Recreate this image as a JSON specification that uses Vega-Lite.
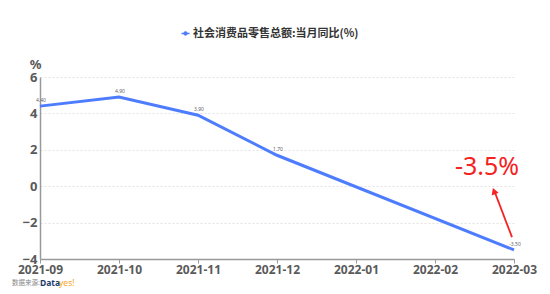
{
  "$schema": "https://vega.github.io/schema/vega-lite/v6.json",
  "width": 474,
  "height": 182,
  "autosize": {"type": "none"},
  "padding": {"left": 40, "right": 36, "top": 77, "bottom": 35},
  "background": "white",
  "config": {
    "view": {"stroke": null},
    "font": "Noto Sans",
    "axis": {"labelOverlap": false, "labelFlush": false},
    "axisY": {"tickCount": 6}
  },
  "datasets": {
    "series": [
      {"month": "2021-09", "value": 4.4, "label": "4.40", "series": "社会消费品零售总额:当月同比(%)"},
      {"month": "2021-10", "value": 4.9, "label": "4.90", "series": "社会消费品零售总额:当月同比(%)"},
      {"month": "2021-11", "value": 3.9, "label": "3.90", "series": "社会消费品零售总额:当月同比(%)"},
      {"month": "2021-12", "value": 1.7, "label": "1.70", "series": "社会消费品零售总额:当月同比(%)"},
      {"month": "2022-03", "value": -3.5, "label": "-3.50", "series": "社会消费品零售总额:当月同比(%)"}
    ],
    "note": [{"month": "2022-03", "y": 1.05, "text": "-3.5%"}],
    "arrow": [{"month": "2022-03", "y1": -2.8, "y2": -0.35, "yh": -0.27}],
    "footer": [{"month": "2021-09", "y": -5.3, "src": "数据来源:", "a": "Data", "b": "yes!"}]
  },
  "layer": [
    {
      "data": {"name": "series"},
      "mark": {"type": "line", "strokeWidth": 3},
      "encoding": {
        "x": {
          "field": "month", "type": "ordinal",
          "scale": {"type": "point", "padding": 0, "domain": ["2021-09", "2021-10", "2021-11", "2021-12", "2022-01", "2022-02", "2022-03"]},
          "axis": {
            "title": null, "labelAngle": 0, "labelFontSize": 12, "labelFontWeight": "bold", "labelColor": "#5a5a5a",
            "labelPadding": 1, "tickSize": 4, "tickColor": "#999", "domainColor": "#999", "domainWidth": 1.5, "grid": false
          }
        },
        "y": {
          "field": "value", "type": "quantitative",
          "scale": {"domain": [-4, 6], "nice": false, "zero": false},
          "axis": {
            "values": [-4, -2, 0, 2, 4, 6], "title": "%", "titleAngle": 0, "titleX": -5, "titleY": -13,
            "titleAlign": "center", "titleBaseline": "middle", "titleFontSize": 13, "titleFontWeight": "bold", "titleColor": "#5a5a5a",
            "labelFontSize": 13, "labelFontWeight": "bold", "labelColor": "#5a5a5a", "labelPadding": 3,
            "ticks": false, "domainColor": "#999", "domainWidth": 1.5,
            "grid": true, "gridColor": "#e2e2e2", "gridDash": [2, 2], "gridWidth": 1
          }
        },
        "color": {
          "field": "series", "type": "nominal",
          "scale": {"range": ["#4d7cfe"]},
          "legend": {
            "title": null, "orient": "none", "legendX": 140, "legendY": -49,
            "labelFont": "Noto Sans CJK SC", "labelFontSize": 11, "labelFontWeight": "bold", "labelColor": "#333", "labelLimit": 0,
            "symbolType": "M-1,0L1,0M-0.35,0a0.35,0.35 0 1,0 0.7,0a0.35,0.35 0 1,0 -0.7,0",
            "symbolSize": 64, "symbolStrokeWidth": 1.5, "symbolFillColor": "#4d7cfe", "symbolStrokeColor": "#4d7cfe", "labelOffset": 2
          }
        }
      }
    },
    {
      "data": {"name": "series"},
      "mark": {"type": "text", "fontSize": 5, "color": "#666", "dy": -6, "dx": 1},
      "encoding": {
        "x": {"field": "month", "type": "ordinal"},
        "y": {"field": "value", "type": "quantitative"},
        "text": {"field": "label"}
      }
    },
    {
      "data": {"name": "note"},
      "mark": {"type": "text", "fontSize": 25, "color": "#f52222", "dx": -27, "baseline": "middle", "align": "center"},
      "encoding": {
        "x": {"field": "month", "type": "ordinal"},
        "y": {"field": "y", "type": "quantitative"},
        "text": {"field": "text"}
      }
    },
    {
      "data": {"name": "arrow"},
      "mark": {"type": "rule", "color": "#f52222", "strokeWidth": 1.8, "xOffset": -2, "x2Offset": -19},
      "encoding": {
        "x": {"field": "month", "type": "ordinal"},
        "x2": {"field": "month"},
        "y": {"field": "y1", "type": "quantitative"},
        "y2": {"field": "y2"}
      }
    },
    {
      "data": {"name": "arrow"},
      "mark": {"type": "point", "shape": "triangle-up", "filled": true, "color": "#f52222", "size": 55, "angle": -21, "xOffset": -20, "opacity": 1},
      "encoding": {
        "x": {"field": "month", "type": "ordinal"},
        "y": {"field": "yh", "type": "quantitative"}
      }
    },
    {
      "data": {"name": "footer"},
      "mark": {"type": "text", "font": "Noto Sans CJK SC", "fontSize": 6.5, "color": "#888", "align": "left", "baseline": "middle", "dx": -28},
      "encoding": {
        "x": {"field": "month", "type": "ordinal"},
        "y": {"field": "y", "type": "quantitative"},
        "text": {"field": "src"}
      }
    },
    {
      "data": {"name": "footer"},
      "mark": {"type": "text", "fontSize": 8.5, "fontWeight": "bold", "color": "#1d3b6e", "align": "left", "baseline": "middle", "dx": 0},
      "encoding": {
        "x": {"field": "month", "type": "ordinal"},
        "y": {"field": "y", "type": "quantitative"},
        "text": {"field": "a"}
      }
    },
    {
      "data": {"name": "footer"},
      "mark": {"type": "text", "fontSize": 8.5, "color": "#f5a623", "align": "left", "baseline": "middle", "dx": 19},
      "encoding": {
        "x": {"field": "month", "type": "ordinal"},
        "y": {"field": "y", "type": "quantitative"},
        "text": {"field": "b"}
      }
    }
  ]
}
